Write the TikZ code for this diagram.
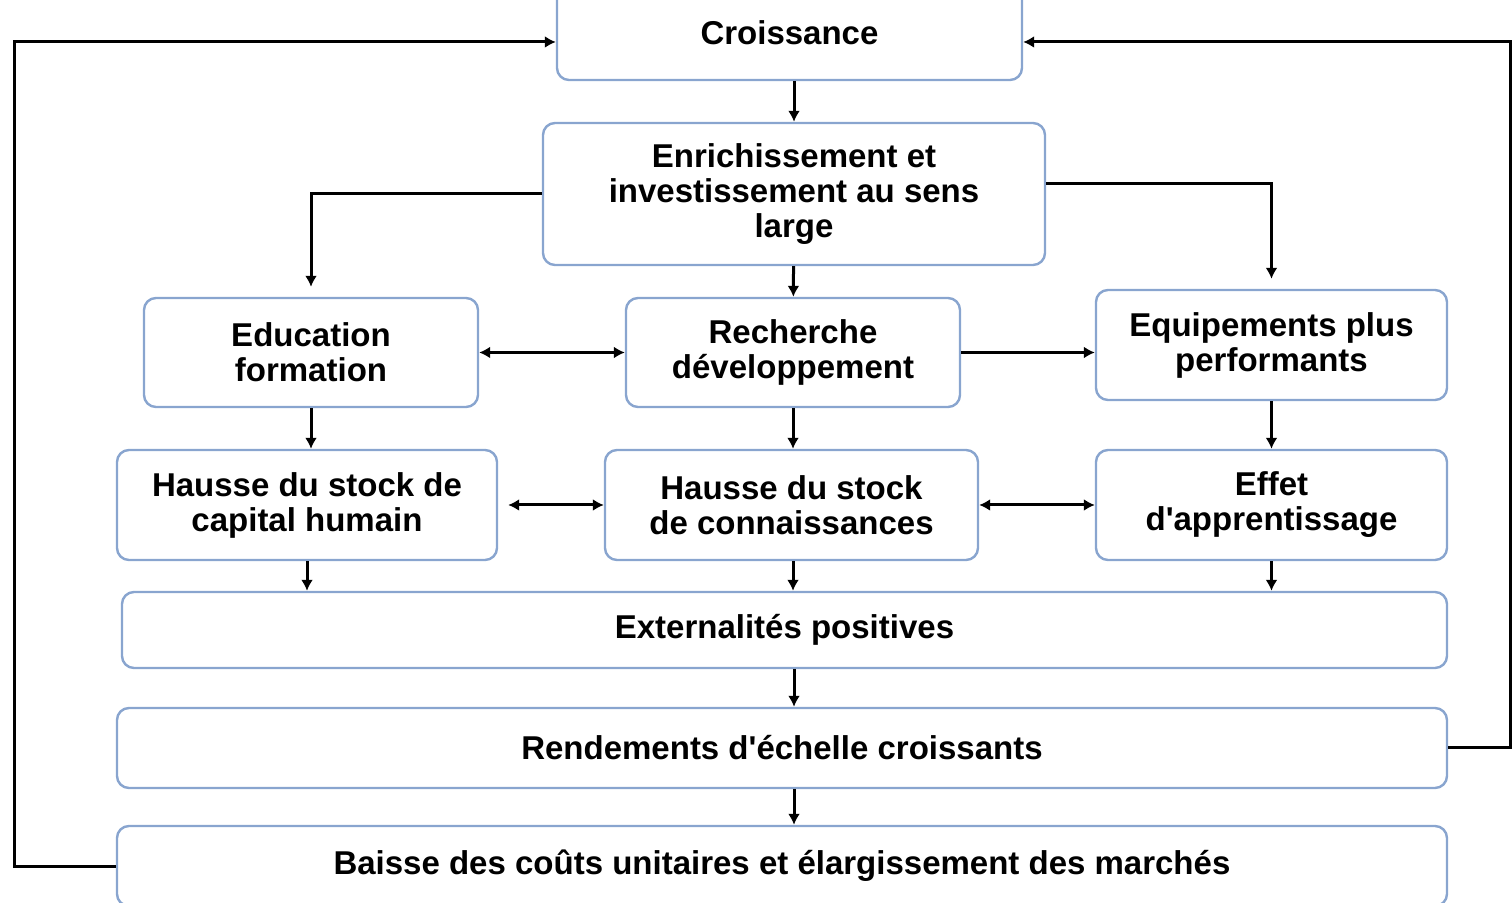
\documentclass[tikz,border=0pt]{standalone}
\usepackage{fontspec}
\setmainfont{Liberation Sans}
\usetikzlibrary{positioning,arrows.meta}
\definecolor{boxline}{RGB}{137,165,207}

\begin{document}
\begin{tikzpicture}[
    x=0.5pt, y=-0.5pt,
    box/.style={draw=boxline, line width=1.2pt, rounded corners=6pt, align=center,
        font=\fontsize{16.5}{17.5}\selectfont\bfseries, inner sep=0pt},
    arr/.style={-{Latex[length=5.5pt,width=6pt]}, line width=1.5pt},
    darr/.style={{Latex[length=5.5pt,width=6pt]}-{Latex[length=5.5pt,width=6pt]}, line width=1.5pt}
]
\clip (0,0) rectangle (1512,903);

\node[box, minimum width=232.5pt, minimum height=47pt] (croiss) at (789.5,33) {Croissance};
\node[box, minimum width=251pt, minimum height=71pt] (enrich) at (794,194)
    {Enrichissement et\\investissement au sens\\large};
\node[box, minimum width=167pt, minimum height=54.5pt] (educ) at (311,352.5) {Education\\formation};
\node[box, minimum width=167pt, minimum height=54.5pt] (rech) at (793,352.5) {Recherche\\développement};
\node[box, minimum width=175.5pt, minimum height=55pt] (equip) at (1271.5,345) {Equipements plus\\performants};
\node[box, minimum width=190pt, minimum height=55pt] (capital) at (307,505) {Hausse du stock de\\capital humain};
\node[box, minimum width=186.5pt, minimum height=55pt] (connais) at (791.5,505) {Hausse du stock\\de connaissances};
\node[box, minimum width=175.5pt, minimum height=55pt] (effet) at (1271.5,505) {Effet\\d\textquotesingle apprentissage};
\node[box, minimum width=662.5pt, minimum height=38pt] (extern) at (784.5,630) {Externalités positives};
\node[box, minimum width=665pt, minimum height=40pt] (rend) at (782,748) {Rendements d\textquotesingle échelle croissants};
\node[box, minimum width=665pt, minimum height=40pt] (baisse) at (782,866)
    {Baisse des coûts unitaires et élargissement des marchés};

\coordinate (rtop) at (1510,42);
\coordinate (ltop) at (14,42);

\draw[arr] (croiss.south -| enrich) -- (enrich);
\draw[arr] (enrich) -- (rech);
\draw[arr, shorten >=5pt] (enrich.west) -| (educ.north);
\draw[arr, shorten >=5pt] ([yshift=5pt]enrich.east) -| (equip.north);
\draw[darr] (educ) -- (rech);
\draw[arr] (rech.east) -- (rech.east -| equip.west);
\draw[arr] (educ) -- (educ |- capital.north);
\draw[arr] (rech) -- (rech |- connais.north);
\draw[arr] (equip) -- (effet);
\draw[darr, shorten <=5pt] (capital) -- (connais);
\draw[darr] (connais) -- (effet);
\draw[arr] (capital) -- (capital |- extern.north);
\draw[arr] (rech |- connais.south) -- (rech |- extern.north);
\draw[arr] (effet) -- (effet |- extern.north);
\draw[arr] (extern.south -| enrich) -- (rend.north -| enrich);
\draw[arr] (rend.south -| enrich) -- (baisse.north -| enrich);
\draw[arr] (rend.east) -| (rtop) -- (rtop -| croiss.east);
\draw[arr] (baisse.west) -| (ltop) -- (ltop -| croiss.west);
\end{tikzpicture}
\end{document}
